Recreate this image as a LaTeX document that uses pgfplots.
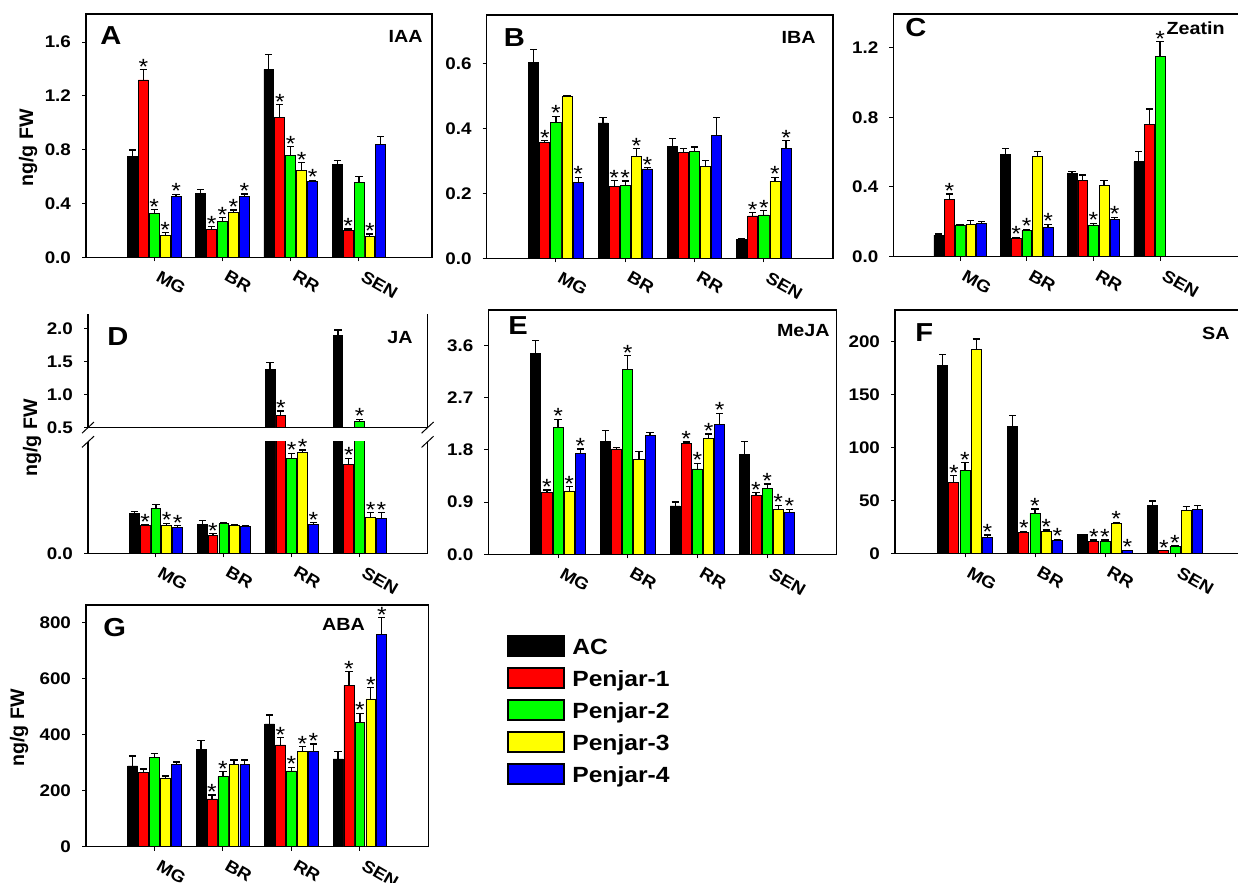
\documentclass[border=0pt]{standalone}
\usepackage{pgfplots}
\pgfplotsset{compat=1.18}
\usepackage{pgfplotstable}
\usepackage{fontspec}
\setmainfont{Liberation Sans}[FakeStretch=1.12]
\newfontfamily\plainsans{Liberation Sans}

\definecolor{cR}{RGB}{255,0,0}
\definecolor{cG}{RGB}{0,255,0}
\definecolor{cY}{RGB}{255,255,0}
\definecolor{cB}{RGB}{0,0,255}

\newcommand\tickfont{\fontsize{8.4}{9}\selectfont\bfseries}
\newcommand\starfont{\fontsize{11}{11}\selectfont}
\newcommand\panelfont{\fontsize{13}{13}\selectfont\bfseries}
\newcommand\namefont{\fontsize{8.8}{9}\selectfont\bfseries}
\newcommand\ylabfont{\plainsans\fontsize{9.8}{10}\selectfont\bfseries}
\newcommand\legfont{\fontsize{11}{12}\selectfont\bfseries}

% columns: g, then value / error / significance for AC, Penjar-1 ... Penjar-4
\pgfplotstableread{
g y0 e0 s0 y1 e1 s1 y2 e2 s2 y3 e3 s3 y4 e4 s4
1 0.748 0.050 {} 1.318 0.075 * 0.324 0.030 * 0.163 0.020 * 0.453 0.015 *
2 0.475 0.030 {} 0.208 0.020 * 0.265 0.030 * 0.332 0.020 * 0.451 0.020 *
3 1.397 0.110 {} 1.040 0.095 * 0.758 0.065 * 0.644 0.060 * 0.562 0.010 *
4 0.689 0.030 {} 0.203 0.008 * 0.560 0.040 {} 0.154 0.020 * 0.840 0.060 {}
}\tIAA
\pgfplotstableread{
g y0 e0 s0 y1 e1 s1 y2 e2 s2 y3 e3 s3 y4 e4 s4
1 0.604 0.041 {} 0.358 0.005 * 0.419 0.020 * 0.499 0.003 {} 0.235 0.015 *
2 0.418 0.016 {} 0.221 0.019 * 0.226 0.013 * 0.314 0.024 * 0.276 0.004 *
3 0.345 0.025 {} 0.326 0.012 {} 0.331 0.013 {} 0.283 0.019 {} 0.378 0.057 {}
4 0.059 0.002 {} 0.131 0.010 * 0.134 0.013 * 0.238 0.012 * 0.340 0.023 *
}\tIBA
\pgfplotstableread{
g y0 e0 s0 y1 e1 s1 y2 e2 s2 y3 e3 s3 y4 e4 s4
1 0.124 0.006 {} 0.329 0.030 * 0.182 0.004 {} 0.184 0.023 {} 0.191 0.012 {}
2 0.589 0.033 {} 0.103 0.008 * 0.149 0.008 * 0.574 0.029 {} 0.168 0.017 *
3 0.478 0.010 {} 0.436 0.033 {} 0.182 0.010 * 0.411 0.025 {} 0.211 0.015 *
4 0.544 0.060 {} 0.760 0.088 {} 1.148 0.086 * nan nan {} nan nan {}
}\tZea
\pgfplotstableread{
g y0 e0 s0 y1 e1 s1 y2 e2 s2 y3 e3 s3 y4 e4 s4
1 0.108 0.005 {} 0.075 0.002 * 0.121 0.010 {} 0.075 0.006 * 0.069 0.006 *
2 0.079 0.009 {} 0.048 0.005 * 0.080 0.003 {} 0.075 0.003 {} 0.073 0.001 {}
3 1.380 0.100 {} 0.690 0.060 * 0.256 0.013 * 0.272 0.006 * 0.079 0.004 *
4 1.890 0.085 {} 0.238 0.018 * 0.595 0.030 * 0.097 0.012 * 0.094 0.015 *
}\tJA
\pgfplotstableread{
g y0 e0 s0 y1 e1 s1 y2 e2 s2 y3 e3 s3 y4 e4 s4
1 3.468 0.220 {} 1.070 0.040 * 2.190 0.140 * 1.093 0.074 * 1.742 0.075 *
2 1.944 0.190 {} 1.817 0.030 {} 3.180 0.240 * 1.639 0.130 {} 2.053 0.050 {}
3 0.834 0.070 {} 1.915 0.023 * 1.472 0.100 * 1.995 0.080 * 2.243 0.190 *
4 1.725 0.220 {} 1.012 0.050 * 1.139 0.075 * 0.776 0.070 * 0.730 0.046 *
}\tMeJA
\pgfplotstableread{
g y0 e0 s0 y1 e1 s1 y2 e2 s2 y3 e3 s3 y4 e4 s4
1 177.3 10.7 {} 66.8 6.6 * 78.1 7.6 * 192.8 9.8 {} 15.4 1.9 *
2 119.7 10.7 {} 19.8 1.0 * 37.8 4.1 * 21.1 1.0 * 12.0 1.3 *
3 17.6 0.4 {} 11.7 1.0 * 11.7 1.0 * 28.0 1.3 * 2.8 0.3 *
4 45.7 3.8 {} 2.5 0.3 * 6.6 0.6 * 40.6 3.5 {} 41.6 3.8 {}
}\tSA
\pgfplotstableread{
g y0 e0 s0 y1 e1 s1 y2 e2 s2 y3 e3 s3 y4 e4 s4
1 287.7 35.7 {} 264.0 13.0 {} 317.5 15.5 {} 245.0 7.0 {} 293.7 8.3 {}
2 347.0 31.0 {} 170.0 14.0 * 249.7 18.0 * 293.7 15.5 {} 293.7 15.5 {}
3 437.6 32.0 {} 362.6 27.0 * 270.0 13.0 * 339.0 18.0 * 339.0 27.0 *
4 312.7 26.0 {} 575.5 49.0 * 443.5 32.0 * 526.8 40.0 * 757.4 59.5 *
}\tABA

\pgfplotsset{
  starfilter/.style={},
  barS/.style={ybar, bar width=0.145, draw=black, line width=0.4pt, forget plot},
  errS/.style={draw=none, mark=none, forget plot,
    error bars/y dir=plus, error bars/y explicit,
    error bars/error bar style={line width=0.6pt, draw=black, solid},
    error bars/error mark options={rotate=90, line width=0.6pt, draw=black, solid, mark size=1.8pt}},
  starS/.style={only marks, mark=none, forget plot, nodes near coords={\pgfplotspointmeta},
    point meta=explicit symbolic,
    nodes near coords style={font=\starfont, anchor=base, inner sep=0pt, yshift=-2.3pt},
    starfilter},
  legimg/.style={legend image code/.code={\draw[line width=1.1pt,##1] (0pt,-4pt) rectangle (28pt,6pt); \path (30pt,0pt);}},
  hp/.style={
    scale only axis, anchor=south west, clip=true,
    xmin=0, xmax=5, ymin=0,
    xtick={1,2,3,4}, xticklabels={MG,BR,RR,SEN},
    xtick pos=bottom, ytick pos=left, tick align=outside,
    major tick length=2pt,
    tick style={black, line width=0.5pt},
    axis line style={line width=0.7pt},
    tick label style={font=\tickfont},
    xticklabel style={rotate=-30, anchor=north west, xshift=1.5pt, yshift=1.5pt},
    yticklabel style={xshift=-2pt, /pgf/number format/fixed, /pgf/number format/fixed zerofill, /pgf/number format/precision=1},
    /pgf/number format/assume math mode=true,
    scaled y ticks=false,
    unbounded coords=discard,
  },
}
\newcommand\oneseries[4]{%
  \addplot[barS, fill=#3, bar shift=#4] table[x=g, y=y#2] {#1};
  \addplot[errS] table[x expr=\thisrow{g}+(#4), y=y#2, y error=e#2] {#1};
  \addplot[starS] table[x expr=\thisrow{g}+(#4), y expr=\thisrow{y#2}+\thisrow{e#2}, meta=s#2] {#1};
}
\newcommand\groupbars[1]{%
  \oneseries{#1}{0}{black}{-0.32}%
  \oneseries{#1}{1}{cR}{-0.16}%
  \oneseries{#1}{2}{cG}{0}%
  \oneseries{#1}{3}{cY}{0.16}%
  \oneseries{#1}{4}{cB}{0.32}%
}

\begin{document}
\begin{tikzpicture}
% A
\begin{axis}[hp, at={(43pt,-128.7pt)}, width=173pt, height=121.7pt, xmax=5.07, ymax=1.808, ytick={0,0.4,0.8,1.2,1.6}]
\groupbars{\tIAA}
\end{axis}
% B
\begin{axis}[hp, at={(243.3pt,-129.2pt)}, width=173.3pt, height=121.7pt, ymax=0.751, ytick={0,0.2,0.4,0.6}]
\groupbars{\tIBA}
\end{axis}
% C
\begin{axis}[hp, at={(446.7pt,-128.3pt)}, width=175pt, height=121.3pt, xmax=5.25, ymax=1.393, ytick={0,0.4,0.8,1.2}]
\groupbars{\tZea}
\end{axis}
% D lower
\begin{axis}[hp, name=Dlow, at={(44pt,-276.7pt)}, width=169.8pt, height=55.8pt, ymax=0.3, ytick={0},
  axis x line*=bottom, axis y line*=box, starfilter/.style={restrict y to domain=-1:0.3}]
\groupbars{\tJA}
\end{axis}
% D upper
\begin{axis}[hp, name=Dup, at={(44pt,-213.8pt)}, width=169.8pt, height=56.8pt, ymin=0.5, ymax=2.217, ytick={0.5,1,1.5,2},
  xtick=\empty, axis x line*=top, axis y line*=box, starfilter/.style={restrict y to domain=0.5:3}]
\groupbars{\tJA}
\end{axis}
% E
\begin{axis}[hp, at={(244.2pt,-277.2pt)}, width=174.2pt, height=122.2pt, ymax=4.21, ytick={0,0.9,1.8,2.7,3.6}]
\groupbars{\tMeJA}
\end{axis}
% F
\begin{axis}[hp, at={(447.5pt,-276.7pt)}, width=183.75pt, height=121.7pt, xmax=5.25, ymax=230, ytick={0,50,100,150,200},
  yticklabel style={/pgf/number format/precision=0}]
\groupbars{\tSA}
\end{axis}
% G
\begin{axis}[hp, at={(43pt,-423.3pt)}, width=171.2pt, height=120.8pt, ymax=862, ytick={0,200,400,600,800},
  yticklabel style={/pgf/number format/precision=0},
  legend style={at={(1.228,0.877)}, anchor=north west, draw=none, fill=none, font=\legfont, inner sep=0pt, row sep=2.5pt},
  legend cell align=left]
\addlegendimage{legimg, fill=black, draw=black}
\addlegendimage{legimg, fill=cR, draw=black}
\addlegendimage{legimg, fill=cG, draw=black}
\addlegendimage{legimg, fill=cY, draw=black}
\addlegendimage{legimg, fill=cB, draw=none}
\groupbars{\tABA}
\legend{AC,Penjar-1,Penjar-2,Penjar-3,Penjar-4}
\end{axis}

% axis break marks
\foreach \a in {Dup.south west, Dup.south east, Dlow.north west, Dlow.north east}
  \draw[line width=0.5pt] ([shift={(-3pt,-2.8pt)}]\a) -- ([shift={(3pt,2.8pt)}]\a);

% y labels
\node[rotate=90, font=\ylabfont] at (14pt,-74pt) {ng/g FW};
\node[rotate=90, font=\ylabfont] at (16pt,-219pt) {ng/g FW};
\node[rotate=90, font=\ylabfont] at (9.5pt,-364pt) {ng/g FW};

% panel letters and hormone names
\node[anchor=west, font=\panelfont, inner sep=0pt] at (50pt,-18pt) {A};
\node[anchor=east, font=\namefont, inner sep=0pt] at (211.5pt,-18pt) {IAA};
\node[anchor=west, font=\panelfont, inner sep=0pt] at (251.7pt,-18.7pt) {B};
\node[anchor=east, font=\namefont, inner sep=0pt] at (408pt,-18.7pt) {IBA};
\node[anchor=west, font=\panelfont, inner sep=0pt] at (452.5pt,-13.7pt) {C};
\node[anchor=east, font=\namefont, inner sep=0pt] at (612.5pt,-14pt) {Zeatin};
\node[anchor=west, font=\panelfont, inner sep=0pt] at (53.5pt,-168.5pt) {D};
\node[anchor=east, font=\namefont, inner sep=0pt] at (206.5pt,-168.7pt) {JA};
\node[anchor=west, font=\panelfont, inner sep=0pt] at (254pt,-163pt) {E};
\node[anchor=east, font=\namefont, inner sep=0pt] at (415pt,-165.5pt) {MeJA};
\node[anchor=west, font=\panelfont, inner sep=0pt] at (457.5pt,-166.5pt) {F};
\node[anchor=east, font=\namefont, inner sep=0pt] at (615pt,-166.5pt) {SA};
\node[anchor=west, font=\panelfont, inner sep=0pt] at (51.5pt,-313.7pt) {G};
\node[font=\namefont, inner sep=0pt] at (171.7pt,-312.3pt) {ABA};

\pgfresetboundingbox
\path[use as bounding box] (0pt,0pt) rectangle (619pt,-441.5pt);
\end{tikzpicture}
\end{document}
